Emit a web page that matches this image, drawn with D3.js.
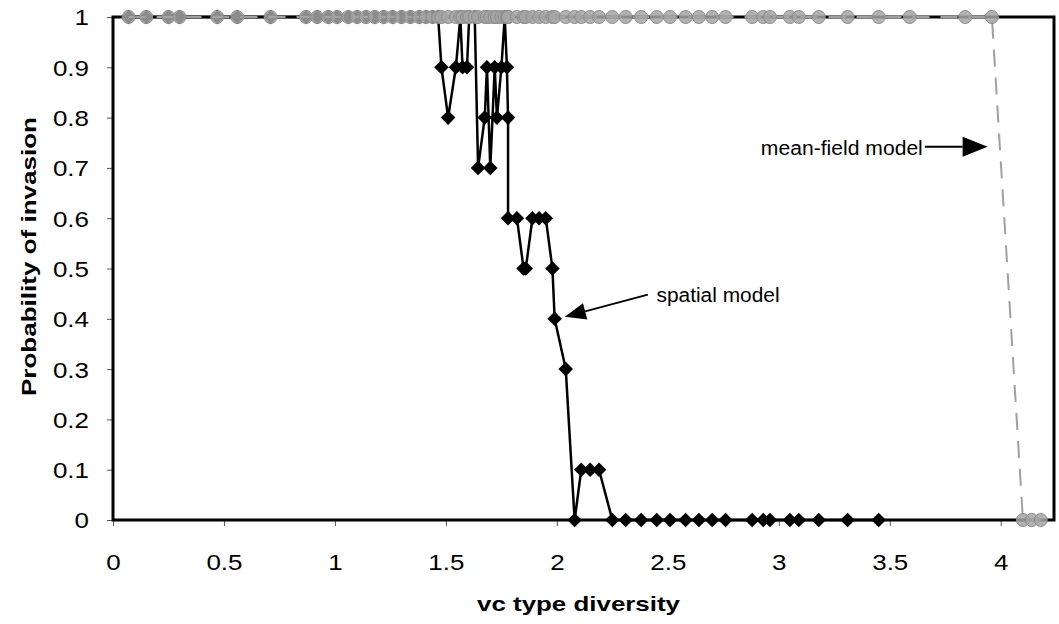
<!DOCTYPE html>
<html>
<head>
<meta charset="utf-8">
<script src="https://cdn.jsdelivr.net/npm/d3@7"></script>
<style>
  body { margin: 0; background: #fff; }
  svg { display: block; font-family: Arial, "Liberation Sans", sans-serif; }
</style>
</head>
<body>
<div id="chart"></div>
<script>
// vc type diversity values of the simulated runs (spatial model)
const diversity = [
    0.07, 0.15, 0.25, 0.30, 0.47, 0.56, 0.71, 0.87, 0.92, 0.97, 1.01,
    1.06, 1.10, 1.14, 1.18, 1.22, 1.26, 1.30, 1.34, 1.38, 1.41, 1.44, 1.465,
    1.48, 1.51, 1.545, 1.565, 1.575, 1.595, 1.605, 1.63, 1.645, 1.675, 1.685, 1.70,
    1.72, 1.73, 1.75, 1.765, 1.775, 1.78, 1.78, 1.82, 1.85, 1.86, 1.89, 1.92,
    1.95, 1.98, 1.99, 2.04, 2.08, 2.11, 2.15, 2.19,
    2.25, 2.31, 2.38, 2.45, 2.51, 2.58, 2.64, 2.70, 2.76, 2.88, 2.93, 2.96,
    3.05, 3.09, 3.18, 3.31, 3.45
];
const spatialProb = [
    1, 1, 1, 1, 1, 1, 1, 1, 1, 1, 1,
    1, 1, 1, 1, 1, 1, 1, 1, 1, 1, 1, 1,
    0.9, 0.8, 0.9, 1, 0.9, 0.9, 1, 1, 0.7, 0.8, 0.9, 0.7,
    0.9, 0.8, 0.9, 1, 0.9, 0.8, 0.6, 0.6, 0.5, 0.5, 0.6, 0.6,
    0.6, 0.5, 0.4, 0.3, 0, 0.1, 0.1, 0.1,
    0, 0, 0, 0, 0, 0, 0, 0, 0, 0, 0, 0,
    0, 0, 0, 0, 0
];

// mean-field model: same runs plus the higher diversity ones
const meanFieldX = diversity.concat([3.59, 3.84, 3.96, 4.10, 4.14, 4.18]);
const meanFieldProb = [
    1, 1, 1, 1, 1, 1, 1, 1, 1, 1, 1,
    1, 1, 1, 1, 1, 1, 1, 1, 1, 1, 1, 1,
    1, 1, 1, 1, 1, 1, 1, 1, 1, 1, 1, 1,
    1, 1, 1, 1, 1, 1, 1, 1, 1, 1, 1, 1,
    1, 1, 1, 1, 1, 1, 1, 1,
    1, 1, 1, 1, 1, 1, 1, 1, 1, 1, 1, 1,
    1, 1, 1, 1, 1,
    1, 1, 1, 0, 0, 0
];

const xTicks = [0, 0.5, 1, 1.5, 2, 2.5, 3, 3.5, 4];
const yTicks = [0, 0.1, 0.2, 0.3, 0.4, 0.5, 0.6, 0.7, 0.8, 0.9, 1];

var w = 1059;
var h = 624;
var margin = { top: 17, bottom: 104, left: 113, right: 5 };
var sx = 1.18; // the scanned figure is a little stretched sideways

var x = d3.scaleLinear()
    .domain([0, 4.24])
    .range([margin.left, w - margin.right]);

var y = d3.scaleLinear()
    .domain([0, 1])
    .range([h - margin.bottom, margin.top]);

var svg = d3.select("#chart").append("svg")
    .attr("width", w)
    .attr("height", h);

// axes
var xAxis = d3.axisBottom(x).tickValues(xTicks).tickSize(6).tickFormat(d => String(d));
var yAxis = d3.axisLeft(y).tickValues(yTicks).tickSize(6).tickFormat(d => String(d));

var gx = svg.append("g")
    .attr("transform", "translate(0," + y(0) + ")")
    .call(xAxis);
gx.select(".domain").remove();
gx.selectAll("line").attr("stroke", "#555");
gx.selectAll("text")
    .attr("y", 50)
    .attr("dy", 0)
    .attr("transform", "scale(" + sx + ",1)")
    .attr("x", 0)
    .style("font-size", "22px")
    .attr("fill", "#000");

var gy = svg.append("g")
    .attr("transform", "translate(" + x(0) + ",0)")
    .call(yAxis);
gy.select(".domain").remove();
gy.selectAll("line").attr("stroke", "#555");
gy.selectAll("text")
    .attr("x", -24 / sx)
    .attr("dy", "0.36em")
    .attr("transform", "scale(" + sx + ",1)")
    .style("font-size", "22px")
    .attr("fill", "#000");

// plot area border
svg.append("rect")
    .attr("x", x(0))
    .attr("y", y(1))
    .attr("width", x(4.24) - x(0))
    .attr("height", y(0) - y(1))
    .attr("fill", "none")
    .attr("stroke", "#000")
    .attr("stroke-width", 3);

// spatial model
var spatial = diversity.map((d, i) => ({ x: d, y: spatialProb[i] }));
var line = d3.line().x(d => x(d.x)).y(d => y(d.y));

svg.append("path")
    .datum(spatial)
    .attr("fill", "none")
    .attr("stroke", "#000")
    .attr("stroke-width", 2.5)
    .attr("stroke-linejoin", "round")
    .attr("d", line);

var diamond = d3.symbol().type(d3.symbolDiamond2).size(135);
svg.selectAll(".sp")
    .data(spatial)
    .enter()
    .append("path")
    .attr("class", "sp")
    .attr("transform", d => "translate(" + x(d.x) + "," + y(d.y) + ")")
    .attr("d", diamond)
    .attr("fill", "#000");

// mean-field model
var meanField = meanFieldX.map((d, i) => ({ x: d, y: meanFieldProb[i] }));

svg.append("path")
    .datum(meanField)
    .attr("fill", "none")
    .attr("stroke", "#a0a0a0")
    .attr("stroke-width", 2)
    .attr("stroke-dasharray", "17,11")
    .attr("d", line);

svg.selectAll(".mf")
    .data(meanField)
    .enter()
    .append("circle")
    .attr("class", "mf")
    .attr("cx", d => x(d.x))
    .attr("cy", d => y(d.y))
    .attr("r", 6.5)
    .attr("fill", "#a4a4a4")
    .attr("fill-opacity", 0.85)
    .attr("stroke", "#8c8c8c")
    .attr("stroke-width", 1);

// annotations
function arrow(x1, y1, x2, y2, len, wid) {
    var px1 = x(x1), py1 = y(y1), px2 = x(x2), py2 = y(y2);
    var a = Math.atan2(py2 - py1, px2 - px1);
    var bx = px2 - len * Math.cos(a), by = py2 - len * Math.sin(a);
    svg.append("line")
        .attr("x1", px1).attr("y1", py1)
        .attr("x2", bx).attr("y2", by)
        .attr("stroke", "#000")
        .attr("stroke-width", 2);
    var nx = -Math.sin(a) * wid / 2, ny = Math.cos(a) * wid / 2;
    svg.append("path")
        .attr("d", "M" + px2 + "," + py2 + "L" + (bx + nx) + "," + (by + ny) + "L" + (bx - nx) + "," + (by - ny) + "Z")
        .attr("fill", "#000");
}

arrow(2.41, 0.448, 2.036, 0.404, 21, 17);
arrow(3.658, 0.742, 3.941, 0.742, 25, 20);

svg.append("text")
    .attr("x", x(2.449))
    .attr("y", y(0.434))
    .attr("textLength", 123)
    .attr("lengthAdjust", "spacingAndGlyphs")
    .style("font-size", "20px")
    .text("spatial model");

svg.append("text")
    .attr("x", x(3.649) - 162)
    .attr("y", y(0.726))
    .attr("textLength", 162)
    .attr("lengthAdjust", "spacingAndGlyphs")
    .style("font-size", "20px")
    .text("mean-field model");

// axis titles
svg.append("text")
    .attr("x", 578 - 101)
    .attr("y", 611)
    .attr("textLength", 203)
    .attr("lengthAdjust", "spacingAndGlyphs")
    .style("font-size", "21px")
    .style("font-weight", "bold")
    .text("vc type diversity");

svg.append("text")
    .attr("transform", "translate(36,257) rotate(-90)")
    .attr("x", -139)
    .attr("textLength", 279)
    .attr("lengthAdjust", "spacingAndGlyphs")
    .style("font-size", "21px")
    .style("font-weight", "bold")
    .text("Probability of invasion");
</script>
</body>
</html>
